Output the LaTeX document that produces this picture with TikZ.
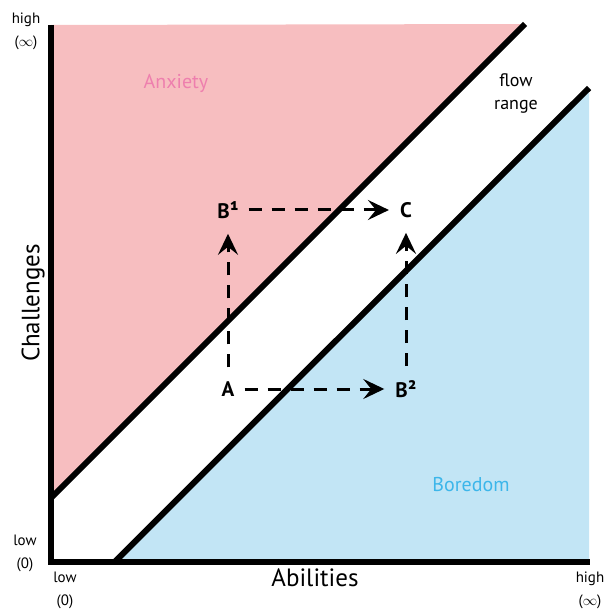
\documentclass[tikz,border=0pt]{standalone}
\usepackage{fontspec}
\setmainfont{PT Sans}
\usetikzlibrary{arrows.meta}
\definecolor{anxfill}{HTML}{F7BEC0}
\definecolor{borfill}{HTML}{C2E5F5}
\definecolor{anxtext}{HTML}{EE7FAE}
\definecolor{bortext}{HTML}{3CB6EA}
\newcommand{\fsz}[1]{\fontsize{#1}{#1}\selectfont}

\begin{document}
\begin{tikzpicture}[
  x=1pt,y=-1pt,
  thick line/.style={line width=6pt},
  tick/.style={font=\fontsize{15}{23}\selectfont,align=center,inner sep=0pt},
  pt/.style={font=\bfseries\fsz{21},inner xsep=5pt,inner ysep=9pt},
  zone/.style={font=\fsz{20}},
  mv/.style={line width=3pt,dash pattern=on 13pt off 10pt,
    -{Stealth[length=21pt,width=20pt,inset=8pt]},shorten <=5pt,shorten >=6pt}
]
\useasboundingbox (0,0) rectangle (608,609);

% corners
\coordinate (O)    at (51,561.5);
\coordinate (ytop) at (51,25);
\coordinate (xend) at (590,561.5);
\coordinate (up1)  at (51,498);
\coordinate (up2)  at (525,24);
\coordinate (lo1)  at (115,561.5);
\coordinate (lo2)  at (589,88);

% regions
\fill[anxfill] (ytop) -- (up2) -- (up1) -- cycle;
\fill[borfill] (lo1) -- (lo2) -- (lo2 |- O) -- cycle;

% flow channel
\draw[thick line] (up1) -- (up2);
\draw[thick line] (lo1) -- (lo2);

% axes
\draw[thick line,line join=miter] (ytop) -- (O) -- (xend);

% axis labels
\node[tick] (yhi) at (26,31)  {high\\($\infty$)};
\node[tick] (ylo) at (25,553) {low\\(0)};
\node[tick] (xlo) at (65,590) {low\\(0)};
\node[tick] (xhi) at (590,590) {high\\($\infty$)};
\node[font=\fsz{25},rotate=90] (chal) at (33,303) {Challenges};
\node[font=\fsz{25}] (abil) at (315,578) {Abilities};

% zones
\node[zone,text=anxtext] (anx) at (176,83) {Anxiety};
\node[zone,text=bortext] (bor) at (471,485) {Boredom};
\node[font=\fontsize{18}{23}\selectfont,align=center] (flow) at (516,94) {flow\\range};

% states
\node[pt] (A)  at (228,389) {A};
\node[pt] (B1) at (228,210) {B¹};
\node[pt] (B2) at (406,389) {B²};
\node[pt] (C)  at (406,210) {C};

\draw[mv] (A) -- (B2);
\draw[mv] (A) -- (B1);
\draw[mv] (B1) -- (C);
\draw[mv] (B2) -- (C);
\end{tikzpicture}
\end{document}
